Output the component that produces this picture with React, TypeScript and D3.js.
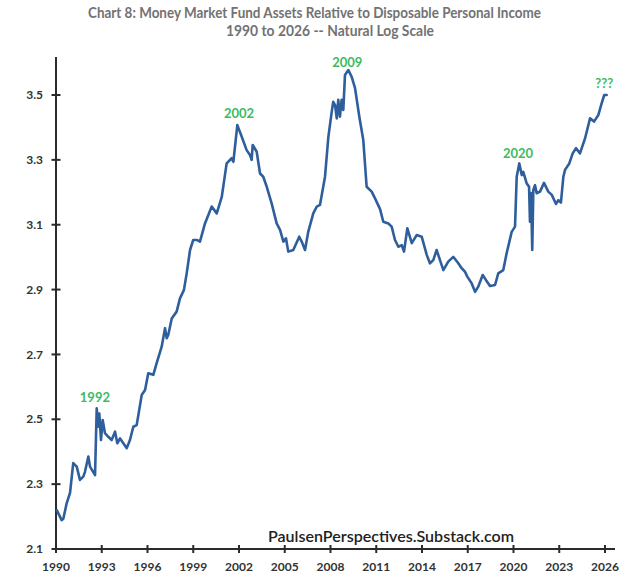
import React from "react";
import * as d3 from "d3";

const years: number[] = [
  1990.05, 1990.37, 1990.48, 1990.7, 1990.92, 1991.13, 1991.36, 1991.57, 1991.79, 1991.9,
  1992.12, 1992.23, 1992.56, 1992.67, 1992.77, 1992.84, 1992.95, 1993.06, 1993.21, 1993.43,
  1993.65, 1993.87, 1994.02, 1994.2, 1994.64, 1994.85, 1995.07, 1995.29, 1995.62, 1995.84,
  1996.05, 1996.38, 1996.6, 1996.93, 1997.15, 1997.26, 1997.36, 1997.59, 1997.91, 1998.13,
  1998.39, 1998.57, 1998.79, 1999.0, 1999.23, 1999.44, 1999.77, 2000.21, 2000.54, 2000.87,
  2001.19, 2001.52, 2001.63, 2001.89, 2002.18, 2002.5, 2002.72, 2002.83, 2002.9, 2003.16,
  2003.38, 2003.59, 2003.82, 2004.14, 2004.47, 2004.69, 2004.91, 2005.08, 2005.23, 2005.56,
  2005.95, 2006.11, 2006.33, 2006.54, 2006.87, 2007.1, 2007.31, 2007.64, 2007.86, 2008.08,
  2008.18, 2008.3, 2008.41, 2008.51, 2008.62, 2008.73, 2008.84, 2008.95, 2009.17, 2009.39,
  2009.61, 2009.89, 2010.15, 2010.37, 2010.7, 2010.92, 2011.25, 2011.46, 2011.79, 2012.01,
  2012.23, 2012.45, 2012.67, 2012.82, 2013.04, 2013.33, 2013.65, 2013.98, 2014.31, 2014.52,
  2014.74, 2014.96, 2015.18, 2015.4, 2015.72, 2016.05, 2016.38, 2016.6, 2016.82, 2016.97,
  2017.26, 2017.48, 2017.69, 2017.98, 2018.2, 2018.46, 2018.79, 2019.0, 2019.33, 2019.55,
  2019.88, 2020.1, 2020.21, 2020.38, 2020.54, 2020.64, 2020.86, 2021.02, 2021.08, 2021.15,
  2021.23, 2021.3, 2021.41, 2021.52, 2021.74, 2022.0, 2022.28, 2022.51, 2022.79, 2022.94,
  2023.11, 2023.27, 2023.38, 2023.66, 2023.88, 2024.1, 2024.36, 2024.69, 2025.02, 2025.28,
  2025.56, 2025.78, 2025.95, 2026.11,
];

const values: number[] = [
  2.22, 2.189, 2.193, 2.241, 2.273, 2.365, 2.354, 2.313, 2.323, 2.338,
  2.385, 2.354, 2.328, 2.534, 2.477, 2.518, 2.436, 2.498, 2.457, 2.446,
  2.436, 2.462, 2.426, 2.441, 2.411, 2.436, 2.477, 2.482, 2.575, 2.59,
  2.642, 2.637, 2.673, 2.724, 2.781, 2.75, 2.76, 2.811, 2.832, 2.873,
  2.899, 2.95, 3.022, 3.053, 3.053, 3.048, 3.104, 3.156, 3.135, 3.186,
  3.289, 3.305, 3.294, 3.407, 3.371, 3.33, 3.315, 3.3, 3.346, 3.325,
  3.258, 3.248, 3.217, 3.166, 3.104, 3.084, 3.048, 3.058, 3.017, 3.022,
  3.063, 3.048, 3.022, 3.078, 3.135, 3.156, 3.161, 3.248, 3.371, 3.448,
  3.479, 3.469, 3.428, 3.485, 3.433, 3.485, 3.454, 3.562, 3.577, 3.556,
  3.521, 3.433, 3.361, 3.217, 3.202, 3.181, 3.148, 3.109, 3.104, 3.094,
  3.053, 3.032, 3.037, 3.017, 3.089, 3.043, 3.068, 3.063, 3.007, 2.981,
  2.991, 3.022, 2.991, 2.96, 2.986, 3.001, 2.981, 2.966, 2.955, 2.94,
  2.919, 2.893, 2.909, 2.945, 2.929, 2.911, 2.914, 2.95, 2.96, 3.012,
  3.078, 3.094, 3.248, 3.289, 3.253, 3.263, 3.228, 3.217, 3.109, 3.198,
  3.022, 3.207, 3.222, 3.197, 3.202, 3.229, 3.202, 3.192, 3.164, 3.176,
  3.168, 3.248, 3.269, 3.289, 3.32, 3.336, 3.32, 3.366, 3.428, 3.418,
  3.438, 3.474, 3.5, 3.5,
];

const xTicks: number[] = [1990, 1993, 1996, 1999, 2002, 2005, 2008, 2011, 2014, 2017, 2020, 2023, 2026];
const yTicks: number[] = [2.1, 2.3, 2.5, 2.7, 2.9, 3.1, 3.3, 3.5];

const annoLabels: string[] = ["1992", "2002", "2009", "2020", "???"];
const annoYears: number[] = [1992.55, 2002.0, 2009.1, 2020.3, 2025.95];
const annoValues: number[] = [2.553, 3.429, 3.586, 3.306, 3.522];

const titleLines: string[] = [
  "Chart 8: Money Market Fund Assets Relative to Disposable Personal Income",
  "1990 to 2026 -- Natural Log Scale",
];
const sourceText = "PaulsenPerspectives.Substack.com";

export default function App() {
  const W = 630;
  const H = 582;
  const x = d3.scaleLinear().domain([1990, 2026]).range([56, 605]);
  const y = d3.scaleLinear().domain([2.1, 3.5]).range([549, 95]);
  const data = years.map((yr, i) => [yr, values[i]] as [number, number]);
  const line = d3
    .line<[number, number]>()
    .x((d) => x(d[0]))
    .y((d) => y(d[1]))
    .curve(d3.curveLinear);
  const axisColor = "#2b2b2b";
  const font = "Lato, 'Open Sans', sans-serif";

  return (
    <svg
      width={W}
      height={H}
      style={{ position: "absolute", left: 0, top: 0, background: "#fff" }}
    >
      <rect x={0} y={0} width={W} height={H} fill="#fff" />
      <text
        x={314.5}
        y={17.5}
        textAnchor="middle"
        fontFamily={font}
        fontWeight={700}
        fontSize={15}
        fill="#727272"
        textLength={453}
        lengthAdjust="spacingAndGlyphs"
      >
        {titleLines[0]}
      </text>
      <text
        x={330}
        y={36}
        textAnchor="middle"
        fontFamily={font}
        fontWeight={700}
        fontSize={15}
        fill="#727272"
        textLength={208}
        lengthAdjust="spacingAndGlyphs"
      >
        {titleLines[1]}
      </text>

      {/* y axis */}
      <line x1={56} x2={56} y1={57} y2={549} stroke={axisColor} strokeWidth={2} />
      {yTicks.map((t) => (
        <g key={"y" + t}>
          <line x1={51.5} x2={60.5} y1={y(t)} y2={y(t)} stroke={axisColor} strokeWidth={2} />
          <text
            x={43}
            y={y(t)}
            dy="0.35em"
            textAnchor="end"
            fontFamily={font}
            fontWeight={700}
            fontSize={12}
            fill="#333"
          >
            {t.toFixed(1)}
          </text>
        </g>
      ))}

      {/* x axis */}
      <line x1={56} x2={615} y1={549} y2={549} stroke={axisColor} strokeWidth={2} />
      {xTicks.map((t) => (
        <g key={"x" + t}>
          <line x1={x(t)} x2={x(t)} y1={545} y2={553} stroke={axisColor} strokeWidth={2} />
          <text
            x={x(t)}
            y={571}
            textAnchor="middle"
            fontFamily={font}
            fontWeight={700}
            fontSize={12}
            fill="#333"
          >
            {t}
          </text>
        </g>
      ))}

      <path
        d={line(data) || ""}
        fill="none"
        stroke="#2f5e9c"
        strokeWidth={2.6}
        strokeLinejoin="round"
        strokeLinecap="round"
      />

      {annoLabels.map((lab, i) => (
        <text
          key={lab}
          x={x(annoYears[i])}
          y={y(annoValues[i])}
          textAnchor="middle"
          fontFamily={font}
          fontWeight={700}
          fontSize={13}
          fill="#3dbb5e"
        >
          {lab}
        </text>
      ))}

      <text
        x={391}
        y={542}
        textAnchor="middle"
        fontFamily={font}
        fontWeight={600}
        fontSize={15}
        fill="#222"
        textLength={246}
        lengthAdjust="spacingAndGlyphs"
      >
        {sourceText}
      </text>
    </svg>
  );
}
